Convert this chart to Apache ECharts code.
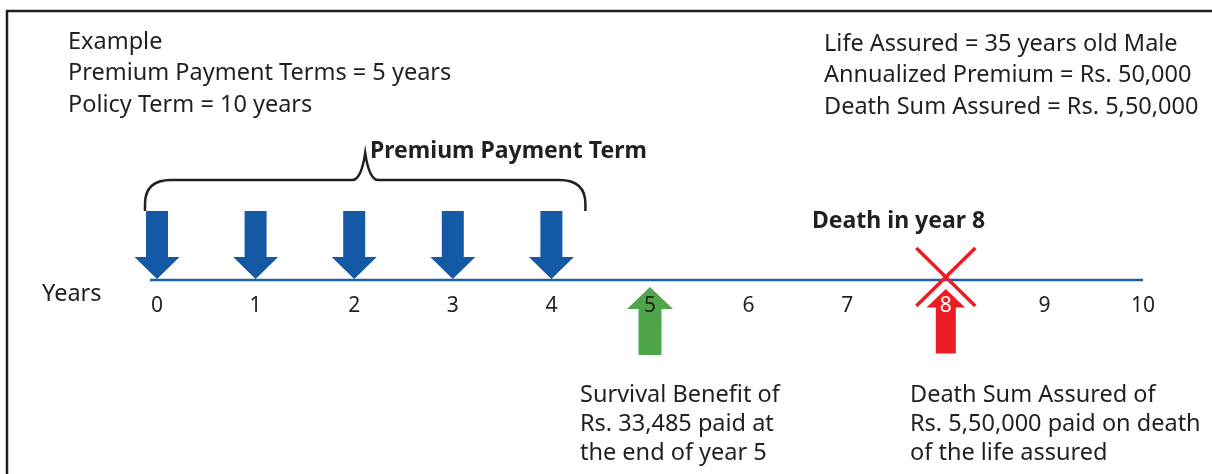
<!DOCTYPE html>
<html>
<head>
    <meta charset="utf-8">
    <title>Policy timeline</title>
    <script src="https://cdn.jsdelivr.net/npm/echarts@6/dist/echarts.min.js"></script>
    <style>html,body{margin:0;padding:0;background:#fff;}</style>
</head>
<body>
    <div id="main" style="width:1212px;height:474px;"></div>
    <script type="text/javascript">
    // data
    var years = [0, 1, 2, 3, 4, 5, 6, 7, 8, 9, 10];
    var premiumYears = [0, 1, 2, 3, 4];
    var survivalYears = [5];
    var deathYears = [8];
    var braceSpan = [0, 4];
    var policyTerm = [0, 10];

    var infoLeft = ['Example', 'Premium Payment Terms = 5 years', 'Policy Term = 10 years'];
    var infoRight = ['Life Assured = 35 years old Male', 'Annualized Premium = Rs. 50,000', 'Death Sum Assured = Rs. 5,50,000'];
    var survivalNote = ['Survival Benefit of', 'Rs. 33,485 paid at', 'the end of year 5'];
    var deathNote = ['Death Sum Assured of', 'Rs. 5,50,000 paid on death', 'of the life assured'];

    var ink = '#231f20';
    var blue = '#1359a6';
    var green = '#4fa64a';
    var red = '#ec1c24';
    var font = '"Noto Sans", sans-serif';
    var fs = 23.5;    // notes
    var boldFs = 23;  // headings
    var tickFs = 21;  // year labels

    var myChart = echarts.init(document.getElementById('main'));

    function textBlock(lines, x, y0, step, bold) {
        return lines.map(function (t, i) {
            return {
                type: 'text', x: x, y: y0 + i * step, z: 20,
                style: {
                    text: t, fill: ink, fontSize: bold ? boldFs : fs, fontFamily: font,
                    fontWeight: bold ? 'bold' : 'normal',
                    verticalAlign: 'middle', textVerticalAlign: 'middle'
                }
            };
        });
    }

    // y axis is in pixels (0 at top), so py(v) = coord y
    function px(api, v) { return api.coord([v, 0])[0]; }
    function py(api, v) { return api.coord([0, v])[1]; }

    function renderDown(params, api) {
        var x = px(api, api.value(0));
        var pts = [[x - 11, 211], [x + 11, 211], [x + 11, 257], [x + 22.5, 257],
                   [x, 279], [x - 22.5, 257], [x - 11, 257]];
        pts = pts.map(function (p) { return [p[0], py(api, p[1])]; });
        return { type: 'polygon', shape: { points: pts }, style: { fill: blue } };
    }

    function upPoints(api, x) {
        var pts = [[x, 287], [x + 23, 309], [x + 11.5, 309], [x + 11.5, 355],
                   [x - 11.5, 355], [x - 11.5, 309], [x - 23, 309]];
        return pts.map(function (p) { return [p[0], py(api, p[1])]; });
    }

    function renderSurvival(params, api) {
        var x = px(api, api.value(0));
        return { type: 'polygon', shape: { points: upPoints(api, x) }, style: { fill: green } };
    }

    function renderDeath(params, api) {
        var x = px(api, api.value(0));
        var c = py(api, 277);
        return {
            type: 'group',
            children: [
                { type: 'line', shape: { x1: x - 29.5, y1: c - 29, x2: x + 29.5, y2: c + 29 },
                  style: { stroke: red, lineWidth: 3.5 } },
                { type: 'line', shape: { x1: x + 29.5, y1: c - 29, x2: x - 29.5, y2: c + 29 },
                  style: { stroke: red, lineWidth: 3.5 } },
                { type: 'polygon', shape: { points: upPoints(api, x) },
                  style: { fill: red, stroke: '#fff', lineWidth: 3 } }
            ]
        };
    }

    function renderTimeline(params, api) {
        var x1 = px(api, api.value(0)) - 7;
        var x2 = px(api, api.value(1));
        var y = py(api, 280);
        return { type: 'line', shape: { x1: x1, y1: y, x2: x2, y2: y },
                 style: { stroke: '#1f5ea9', lineWidth: 2.5 } };
    }

    function renderBrace(params, api) {
        var L = px(api, api.value(0)) - 12;
        var R = px(api, api.value(1)) + 34;
        var M = (L + R) / 2;
        var top = py(api, 180), end = py(api, 211), peak = py(api, 153);
        var d = 'M' + L + ' ' + end + ' L' + L + ' ' + (top + 24) +
            ' Q' + L + ' ' + top + ' ' + (L + 26) + ' ' + top +
            ' L' + (M - 13) + ' ' + top +
            ' Q' + (M - 4) + ' ' + top + ' ' + M + ' ' + peak +
            ' Q' + (M + 4) + ' ' + top + ' ' + (M + 13) + ' ' + top +
            ' L' + (R - 26) + ' ' + top +
            ' Q' + R + ' ' + top + ' ' + R + ' ' + (top + 24) +
            ' L' + R + ' ' + end;
        return { type: 'path', shape: { pathData: d },
                 style: { fill: null, stroke: ink, lineWidth: 2.5 } };
    }

    var option = {
        animation: false,
        backgroundColor: '#fff',
        grid: { left: 157, right: 69, top: 0, bottom: 194 },
        xAxis: {
            type: 'value', min: 0, max: 10, interval: 1, z: 10,
            axisLine: { show: false }, axisTick: { show: false }, splitLine: { show: false },
            axisLabel: {
                margin: 16, fontSize: tickFs, fontFamily: font, color: ink,
                formatter: function (v) {
                    return deathYears.indexOf(v) >= 0 ? '{w|' + v + '}' : '{k|' + v + '}';
                },
                rich: {
                    w: { color: '#fff', fontSize: tickFs, fontFamily: font },
                    k: { color: ink, fontSize: tickFs, fontFamily: font }
                }
            }
        },
        yAxis: { type: 'value', min: 0, max: 280, inverse: true, show: false },
        graphic: [
            { type: 'polyline', z: 20, shape: { points: [[7, 474], [7, 11], [1212, 11]] },
              style: { stroke: ink, lineWidth: 2.5, fill: null } },
            { type: 'text', x: 42, y: 294, z: 20,
              style: { text: 'Years', fill: ink, fontSize: fs, fontFamily: font,
                       verticalAlign: 'middle', textVerticalAlign: 'middle' } }
        ].concat(textBlock(infoLeft, 68, 42, 31.5, false))
         .concat(textBlock(infoRight, 824, 44, 31.5, false))
         .concat(textBlock(['Premium Payment Term'], 370, 151, 0, true))
         .concat(textBlock(['Death in year 8'], 812, 221, 0, true))
         .concat(textBlock(survivalNote, 580, 395, 29, false))
         .concat(textBlock(deathNote, 910, 395, 29, false)),
        series: [
            { name: 'timeline', type: 'custom', renderItem: renderTimeline, data: [policyTerm] },
            { name: 'brace', type: 'custom', renderItem: renderBrace, data: [braceSpan] },
            { name: 'premium', type: 'custom', renderItem: renderDown,
              data: premiumYears.map(function (y) { return [y]; }) },
            { name: 'survival', type: 'custom', renderItem: renderSurvival,
              data: survivalYears.map(function (y) { return [y]; }) },
            { name: 'death', type: 'custom', renderItem: renderDeath,
              data: deathYears.map(function (y) { return [y]; }) }
        ]
    };

    myChart.setOption(option);
    </script>
</body>
</html>
